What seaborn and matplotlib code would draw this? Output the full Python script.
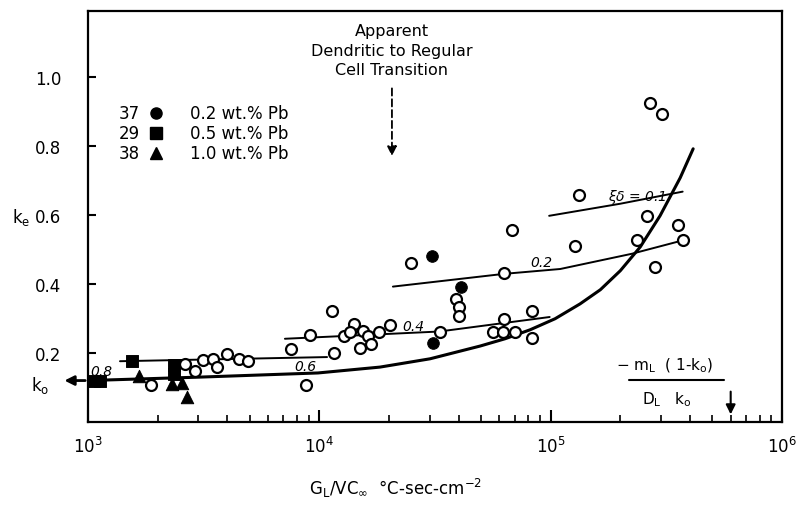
import matplotlib
matplotlib.use("Agg")
import matplotlib.pyplot as plt
import seaborn as sns
from matplotlib.ticker import LogLocator, FixedLocator, NullFormatter, FixedFormatter

# ---------------- data ----------------
open_x = [1.87e3, 2.63e3, 2.9e3, 3.14e3, 3.47e3, 3.6e3, 3.98e3, 4.5e3, 4.9e3,
          7.55e3, 9.1e3, 8.75e3, 1.135e4, 1.16e4,
          1.28e4, 1.41e4, 1.36e4, 1.54e4, 1.63e4, 1.82e4, 2.02e4, 1.5e4, 1.68e4,
          3.33e4, 2.49e4, 6.79e4, 1.27e5, 6.3e4, 3.9e4, 4.0e4, 4.02e4,
          6.3e4, 5.62e4, 6.2e4, 7.02e4, 8.28e4, 8.3e4,
          2.69e5, 3.02e5, 1.32e5, 2.62e5, 3.56e5, 2.37e5, 3.75e5, 2.83e5]
open_k = [0.107, 0.168, 0.148, 0.180, 0.183, 0.160, 0.197, 0.183, 0.177,
          0.212, 0.252, 0.108, 0.322, 0.200,
          0.250, 0.284, 0.262, 0.263, 0.250, 0.262, 0.281, 0.214, 0.226,
          0.260, 0.461, 0.555, 0.509, 0.431, 0.357, 0.332, 0.308,
          0.299, 0.262, 0.262, 0.262, 0.320, 0.243,
          0.925, 0.893, 0.656, 0.596, 0.571, 0.526, 0.526, 0.448]

# 0.2 wt.% Pb (ref 37) filled circles
pb02_x = [3.07e4, 3.1e4, 4.1e4]
pb02_k = [0.482, 0.229, 0.392]
# 0.5 wt.% Pb (ref 29) filled squares
pb05_x = [1.06e3, 1.13e3, 1.55e3, 2.35e3, 2.35e3]
pb05_k = [0.120, 0.120, 0.177, 0.165, 0.138]
# 1.0 wt.% Pb (ref 38) filled triangles
pb10_x = [1.66e3, 2.31e3, 2.55e3, 2.68e3]
pb10_k = [0.134, 0.110, 0.113, 0.072]

# main (thick) curve
curve_x = [1.0e3, 3.05e3, 9.87e3, 1.83e4, 3.01e4, 4.96e4, 6.35e4, 8.15e4, 1.045e5,
           1.34e5, 1.64e5, 2.0e5, 2.44e5, 2.97e5, 3.63e5, 4.13e5]
curve_k = [0.120, 0.130, 0.142, 0.159, 0.183, 0.220, 0.241, 0.267, 0.299,
           0.342, 0.383, 0.438, 0.507, 0.597, 0.707, 0.791]

# thin delta lines
d06_x = [1.375e3, 1.08e4]
d06_k = [0.176, 0.188]
d04_x = [7.1e3, 3.3e4, 9.9e4]
d04_k = [0.241, 0.262, 0.304]
d02_x = [2.08e4, 6.3e4, 1.1e5, 2.24e5, 3.73e5]
d02_k = [0.392, 0.429, 0.443, 0.487, 0.526]
d01_x = [9.85e4, 2.0e5, 3.72e5]
d01_k = [0.597, 0.632, 0.667]

delta_labels = ["0.8", "0.6", "0.4", "0.2", "$\\xi\\delta$ = 0.1"]
legend_refs = ["37", "29", "38"]
legend_texts = ["0.2 wt.% Pb", "0.5 wt.% Pb", "1.0 wt.% Pb"]
yticks = [0.2, 0.4, 0.6, 0.8, 1.0]
ytick_labels = ["0.2", "0.4", "0.6", "0.8", "1.0"]
k0_value = 0.120
crit_x = 6.0e5
trans_x = 2.06e4

# ---------------- plot ----------------
sns.set_theme(style="ticks")
plt.rcParams['font.family'] = ['DejaVu Sans']
plt.rcParams['mathtext.default'] = 'regular'
plt.rcParams['text.color'] = 'black'
plt.rcParams['axes.labelcolor'] = 'black'
plt.rcParams['xtick.color'] = 'black'
plt.rcParams['ytick.color'] = 'black'

fig = plt.figure(figsize=(8.02, 5.06), dpi=100)
ax = fig.add_axes([88/802, 83/506, 694/802, 411/506])
ax.set_xscale('log')
ax.set_xlim(1e3, 1e6)
ax.set_ylim(0, 1.19)

sns.lineplot(x=curve_x, y=curve_k, ax=ax, color='black', lw=2.2,
             sort=False, estimator=None, legend=False)
for lx, lk in [(d06_x, d06_k), (d04_x, d04_k), (d02_x, d02_k), (d01_x, d01_k)]:
    sns.lineplot(x=lx, y=lk, ax=ax, color='black', lw=1.4,
                 sort=False, estimator=None, legend=False)

sns.scatterplot(x=open_x, y=open_k, ax=ax, marker='o', s=62, facecolor='white',
                edgecolor='black', linewidth=1.6, zorder=3, legend=False)
sns.scatterplot(x=pb02_x, y=pb02_k, ax=ax, marker='o', s=70, color='black',
                edgecolor='black', zorder=4, legend=False)
sns.scatterplot(x=pb05_x, y=pb05_k, ax=ax, marker='s', s=70, color='black',
                edgecolor='black', zorder=4, legend=False)
sns.scatterplot(x=pb10_x, y=pb10_k, ax=ax, marker='^', s=80, color='black',
                edgecolor='black', zorder=4, legend=False)

# delta labels
lab_pos = [(1.14e3, 0.148), (8.67e3, 0.162), (2.54e4, 0.279), (9.1e4, 0.463), (2.37e5, 0.654)]
for t, (px, pk) in zip(delta_labels, lab_pos):
    ax.text(px, pk, t, fontsize=10, style='italic', ha='center', va='center')

# axes styling
for sp in ax.spines.values():
    sp.set_linewidth(1.6)
    sp.set_color('black')
ax.xaxis.set_major_locator(LogLocator(base=10, numticks=10))
ax.xaxis.set_minor_locator(LogLocator(base=10, subs=range(2, 10), numticks=30))
ax.xaxis.set_minor_formatter(NullFormatter())
ax.yaxis.set_major_locator(FixedLocator(yticks))
ax.yaxis.set_major_formatter(FixedFormatter(ytick_labels))
ax.tick_params(axis='x', which='major', direction='in', length=9, width=1.5,
               pad=10, labelsize=12, colors='black', top=False)
ax.tick_params(axis='x', which='minor', direction='in', length=5, width=1.2, top=False)
ax.tick_params(axis='y', which='major', direction='in', length=6, width=1.5,
               pad=19, labelsize=12, colors='black', right=False)

ax.set_ylabel("k$_e$", rotation=0, fontsize=12, ha='center', va='center')
ax.yaxis.set_label_coords(-0.097, 0.5)
ax.set_xlabel("G$_L$/VC$_\\infty$  °C-sec-cm$^{-2}$", fontsize=12, va='top')
ax.xaxis.set_label_coords(0.443, -0.13)

# legend (custom)
for i, (ref, txt, mk) in enumerate(zip(legend_refs, legend_texts, ['o', 's', '^'])):
    yy = 0.752 - i * 0.049
    ax.text(0.075, yy, ref, transform=ax.transAxes, ha='right', va='center', fontsize=12)
    ax.plot([0.098], [yy], marker=mk, color='black', ms=8, transform=ax.transAxes)
    ax.text(0.147, yy, txt, transform=ax.transAxes, ha='left', va='center', fontsize=12)

# transition annotation
ax.text(0.438, 0.905, "Apparent\nDendritic to Regular\nCell Transition", transform=ax.transAxes,
        ha='center', va='center', fontsize=11.5, linespacing=1.35)
ax.annotate("", xy=(trans_x, 0.762), xytext=(trans_x, 0.974),
            arrowprops=dict(arrowstyle='-|>', color='black', lw=1.3, linestyle=(0, (4, 2)),
                            mutation_scale=14))

# k0 arrow
ax.annotate("", xy=(-0.038, k0_value), xycoords=('axes fraction', 'data'),
            xytext=(0.0, k0_value), textcoords=('axes fraction', 'data'),
            arrowprops=dict(arrowstyle='-|>', color='black', lw=2, mutation_scale=14),
            annotation_clip=False)
ax.text(-0.069, k0_value - 0.01, "k$_o$", transform=ax.get_yaxis_transform(),
        ha='center', va='center', fontsize=12)

# critical value annotation
ax.text(0.831, 0.139, "$-$ m$_L$  ( 1-k$_o$)", transform=ax.transAxes,
        ha='center', va='center', fontsize=11)
ax.plot([0.780, 0.917], [0.102, 0.102], color='black', lw=1.5, transform=ax.transAxes)
ax.text(0.834, 0.058, "D$_L$   k$_o$", transform=ax.transAxes,
        ha='center', va='center', fontsize=11)
ax.annotate("", xy=(crit_x, 0.014), xytext=(crit_x, 0.096),
            arrowprops=dict(arrowstyle='-|>', color='black', lw=1.5, mutation_scale=14))

fig.savefig("out.png", dpi=100)
